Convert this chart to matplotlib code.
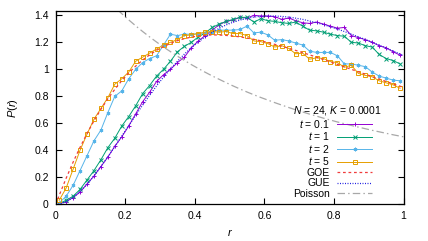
import numpy as np
import matplotlib.pyplot as plt
from matplotlib.ticker import FuncFormatter

plt.rcParams['font.family'] = ['Liberation Sans', 'DejaVu Sans']
plt.rcParams['mathtext.fontset'] = 'custom'
plt.rcParams['mathtext.rm'] = 'Liberation Sans'
plt.rcParams['mathtext.it'] = 'Liberation Sans:italic'

# bin centres of the histograms
r = [0.01, 0.03, 0.05, 0.07, 0.09, 0.11, 0.13, 0.15, 0.17, 0.19,
     0.21, 0.23, 0.25, 0.27, 0.29, 0.31, 0.33, 0.35, 0.37, 0.39,
     0.41, 0.43, 0.45, 0.47, 0.49, 0.51, 0.53, 0.55, 0.57, 0.59,
     0.61, 0.63, 0.65, 0.67, 0.69, 0.71, 0.73, 0.75, 0.77, 0.79,
     0.81, 0.83, 0.85, 0.87, 0.89, 0.91, 0.93, 0.95, 0.97, 0.99]

p_t01 = [0.003, 0.02, 0.05, 0.09, 0.15, 0.21, 0.28, 0.35, 0.43, 0.50,
         0.58, 0.67, 0.76, 0.83, 0.91, 0.96, 1.00, 1.05, 1.09, 1.16,
         1.21, 1.25, 1.29, 1.33, 1.355, 1.365, 1.385, 1.38, 1.40, 1.395,
         1.395, 1.39, 1.37, 1.38, 1.36, 1.345, 1.34, 1.35, 1.335, 1.32,
         1.305, 1.31, 1.25, 1.235, 1.22, 1.20, 1.175, 1.16, 1.13, 1.105]

p_t1 = [0.005, 0.03, 0.06, 0.11, 0.18, 0.25, 0.33, 0.42, 0.49, 0.58,
        0.65, 0.73, 0.82, 0.88, 0.95, 1.00, 1.06, 1.13, 1.17, 1.20,
        1.24, 1.27, 1.31, 1.335, 1.355, 1.37, 1.385, 1.385, 1.35, 1.375,
        1.36, 1.355, 1.345, 1.34, 1.35, 1.32, 1.29, 1.285, 1.275, 1.26,
        1.25, 1.245, 1.20, 1.195, 1.175, 1.165, 1.11, 1.08, 1.065, 1.04]

p_t2 = [0.01, 0.06, 0.14, 0.25, 0.36, 0.47, 0.55, 0.68, 0.80, 0.84,
        0.93, 1.00, 1.05, 1.08, 1.10, 1.18, 1.26, 1.25, 1.26, 1.26,
        1.265, 1.27, 1.28, 1.29, 1.29, 1.29, 1.295, 1.32, 1.27, 1.275,
        1.255, 1.215, 1.22, 1.21, 1.195, 1.18, 1.135, 1.125, 1.125, 1.125,
        1.10, 1.04, 1.04, 1.03, 1.02, 0.98, 0.95, 0.935, 0.92, 0.915]

p_t5 = [0.03, 0.12, 0.26, 0.40, 0.52, 0.63, 0.71, 0.79, 0.89, 0.93,
        0.98, 1.06, 1.09, 1.12, 1.15, 1.18, 1.20, 1.22, 1.25, 1.255,
        1.265, 1.275, 1.28, 1.275, 1.28, 1.265, 1.265, 1.25, 1.21, 1.205,
        1.19, 1.165, 1.175, 1.155, 1.115, 1.12, 1.075, 1.085, 1.08, 1.057,
        1.05, 1.015, 1.03, 0.97, 0.955, 0.945, 0.915, 0.90, 0.885, 0.86]

# reference curves
r_th = [0.0, 0.01, 0.03, 0.05, 0.07, 0.09, 0.11, 0.13, 0.15, 0.17, 0.19,
        0.21, 0.23, 0.25, 0.27, 0.29, 0.31, 0.33, 0.35, 0.37, 0.39,
        0.41, 0.43, 0.45, 0.47, 0.49, 0.51, 0.53, 0.55, 0.57, 0.59,
        0.61, 0.63, 0.65, 0.67, 0.69, 0.71, 0.73, 0.75, 0.77, 0.79,
        0.81, 0.83, 0.85, 0.87, 0.89, 0.91, 0.93, 0.95, 0.97, 0.99, 1.0]

p_goe = [0.0, 0.066, 0.193, 0.312, 0.422, 0.524, 0.618, 0.704, 0.782, 0.852, 0.916,
         0.973, 1.024, 1.069, 1.107, 1.141, 1.168, 1.192, 1.212, 1.227, 1.239,
         1.247, 1.252, 1.255, 1.254, 1.251, 1.247, 1.240, 1.232, 1.222, 1.211,
         1.198, 1.185, 1.171, 1.156, 1.140, 1.124, 1.107, 1.090, 1.072, 1.054,
         1.036, 1.018, 1.000, 0.982, 0.964, 0.946, 0.928, 0.910, 0.892, 0.875, 0.866]

p_gue = [0.0, 0.002, 0.019, 0.050, 0.094, 0.148, 0.210, 0.279, 0.352, 0.428, 0.505,
         0.583, 0.660, 0.735, 0.807, 0.877, 0.942, 1.003, 1.060, 1.113, 1.160,
         1.203, 1.241, 1.275, 1.304, 1.329, 1.349, 1.365, 1.378, 1.387, 1.393,
         1.395, 1.395, 1.392, 1.387, 1.379, 1.370, 1.358, 1.345, 1.331, 1.315,
         1.298, 1.280, 1.261, 1.241, 1.221, 1.200, 1.179, 1.157, 1.136, 1.114, 1.103]

p_poisson = [2.0, 1.961, 1.885, 1.814, 1.747, 1.683, 1.623, 1.566, 1.512, 1.461, 1.412,
             1.366, 1.322, 1.280, 1.240, 1.202, 1.165, 1.131, 1.097, 1.066, 1.035,
             1.006, 0.978, 0.951, 0.926, 0.901, 0.877, 0.854, 0.832, 0.811, 0.791,
             0.772, 0.753, 0.735, 0.717, 0.700, 0.684, 0.668, 0.653, 0.638, 0.624,
             0.610, 0.597, 0.584, 0.572, 0.560, 0.548, 0.537, 0.526, 0.515, 0.505, 0.500]

fig = plt.figure(figsize=(4.28, 2.41), dpi=100)
ax = fig.add_axes([55.7 / 428, 1 - 204.3 / 241, (403.5 - 55.7) / 428, (204.3 - 11) / 241])

lw = 0.7
ax.plot(r, p_t01, color='#9400d3', lw=lw, marker='+', ms=3, mew=0.7, label='$t$ = 0.1')
ax.plot(r, p_t1, color='#009e73', lw=lw, marker='x', ms=2.2, mew=0.7, label='$t$ = 1')
ax.plot(r, p_t2, color='#56b4e9', lw=lw, marker=(6, 2, 0), ms=2.6, mew=0.7, label='$t$ = 2')
ax.plot(r, p_t5, color='#e69f00', lw=lw, marker='s', ms=2.7, mew=0.7, mfc='none', label='$t$ = 5')
ax.plot(r_th, p_goe, color='#f03c3c', lw=0.9, ls=(0, (2.2, 2.2)), label='GOE')
ax.plot(r_th, p_gue, color='#2020e0', lw=0.9, ls=(0, (0.8, 1.2)), label='GUE')
ax.plot(r_th, p_poisson, color='#a8a8a8', lw=0.9, ls=(0, (6, 2.5, 1.2, 2.5)), label='Poisson')

ax.set_xlim(0, 1)
ax.set_ylim(0, 1.432)
ax.set_xticks([0, 0.2, 0.4, 0.6, 0.8, 1])
ax.set_yticks([0, 0.2, 0.4, 0.6, 0.8, 1, 1.2, 1.4])
fmt = FuncFormatter(lambda v, p: '%g' % round(v, 2))
ax.xaxis.set_major_formatter(fmt)
ax.yaxis.set_major_formatter(fmt)
ax.tick_params(direction='in', top=True, right=True, length=4, width=0.8,
               labelsize=7.5, pad=5)
for s in ax.spines.values():
    s.set_linewidth(0.9)

ax.set_xlabel('$r$', fontsize=8, labelpad=4)
ax.set_ylabel('$P(r)$', fontsize=8, labelpad=10)

leg = ax.legend(loc='lower left', bbox_to_anchor=(293 / 428, 1 - 199 / 241),
                bbox_transform=fig.transFigure, frameon=False, markerfirst=False,
                fontsize=7.5, handlelength=3.4, handletextpad=0.7, labelspacing=0.05,
                borderpad=0, borderaxespad=0, numpoints=1,
                title='$N$ = 24, $K$ = 0.0001', title_fontsize=7.5, alignment='left')

fig.savefig('out.png', dpi=100)
